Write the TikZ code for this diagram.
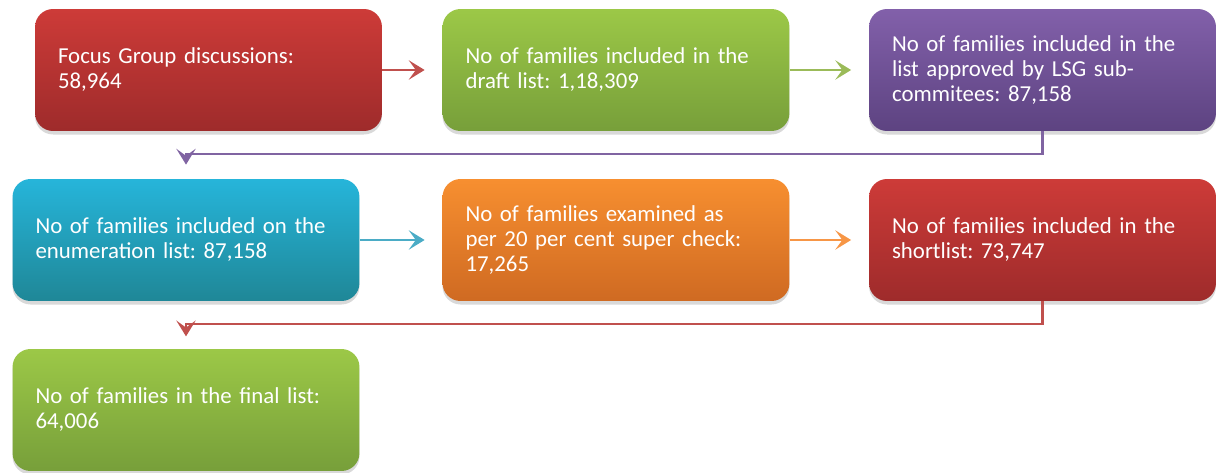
\documentclass[tikz,border=0pt]{standalone}
\usepackage{fontspec}
\setmainfont{Carlito}
\usetikzlibrary{arrows.meta,shadows}
\frenchspacing
\definecolor{redtop}{HTML}{CD3B38}
\definecolor{redbot}{HTML}{9E2B2B}
\definecolor{redline}{HTML}{C0504D}
\definecolor{greentop}{HTML}{9CC847}
\definecolor{greenbot}{HTML}{779F3A}
\definecolor{greenline}{HTML}{9BBB59}
\definecolor{violettop}{HTML}{8260AA}
\definecolor{violetbot}{HTML}{5D4381}
\definecolor{violetline}{HTML}{8064A2}
\definecolor{cyantop}{HTML}{26B5DA}
\definecolor{cyanbot}{HTML}{1F8797}
\definecolor{cyanline}{HTML}{4BACC6}
\definecolor{orangetop}{HTML}{F78F30}
\definecolor{orangebot}{HTML}{CF6A22}
\definecolor{orangeline}{HTML}{F79646}
\tikzset{
  stage/.style={rounded corners=0.36cm, text=white, align=left,
    text width=6.02cm, inner xsep=0.46cm, inner ysep=0pt,
    minimum height=2.44cm, font=\fontsize{13}{14.2}\selectfont,
    drop shadow={opacity=0.3, shadow xshift=0pt, shadow yshift=-2pt}},
  redstage/.style={stage, top color=redtop, bottom color=redbot},
  greenstage/.style={stage, top color=greentop, bottom color=greenbot},
  violetstage/.style={stage, top color=violettop, bottom color=violetbot},
  cyanstage/.style={stage, top color=cyantop, bottom color=cyanbot},
  orangestage/.style={stage, top color=orangetop, bottom color=orangebot},
  link/.style={line width=1.3pt,
    -{Stealth[length=9pt,width=11pt,inset=4pt]}}
}
\begin{document}
\begin{tikzpicture}[x=0.02cm,y=-0.02cm]
  \useasboundingbox (0,0) rectangle (1217,473);
  % first row
  \node[redstage] (fgd) at (208.5,70) {Focus Group discussions:\\58,964};
  \node[greenstage] (draft) at (616,70) {No of families included in the\\draft list: 1,18,309};
  \node[violetstage] (lsg) at (1042.5,70) {No of families included in the\\list approved by LSG sub-\\commitees: 87,158};
  % second row
  \node[cyanstage] (enum) at (186,240) {No of families included on the\\enumeration list: 87,158};
  \node[orangestage] (check) at (616,240) {No of families examined as\\per 20 per cent super check:\\17,265};
  \node[redstage] (short) at (1042.5,240) {No of families included in the\\shortlist: 73,747};
  % last row
  \node[greenstage] (final) at (186,410) {No of families in the final list:\\64,006};

  \draw[link, redline, shorten >=10] (fgd.east) -- (draft.west);
  \draw[link, greenline, shorten >=10] (draft.east) -- (lsg.west);
  \draw[link, violetline, shorten >=8] (lsg.south) -- ++(0,23) -| (enum.north);
  \draw[link, cyanline, shorten >=10] (enum.east) -- (check.west);
  \draw[link, orangeline, shorten >=10] (check.east) -- (short.west);
  \draw[link, redline, shorten >=7] (short.south) -- ++(0,23) -| (final.north);
\end{tikzpicture}
\end{document}
